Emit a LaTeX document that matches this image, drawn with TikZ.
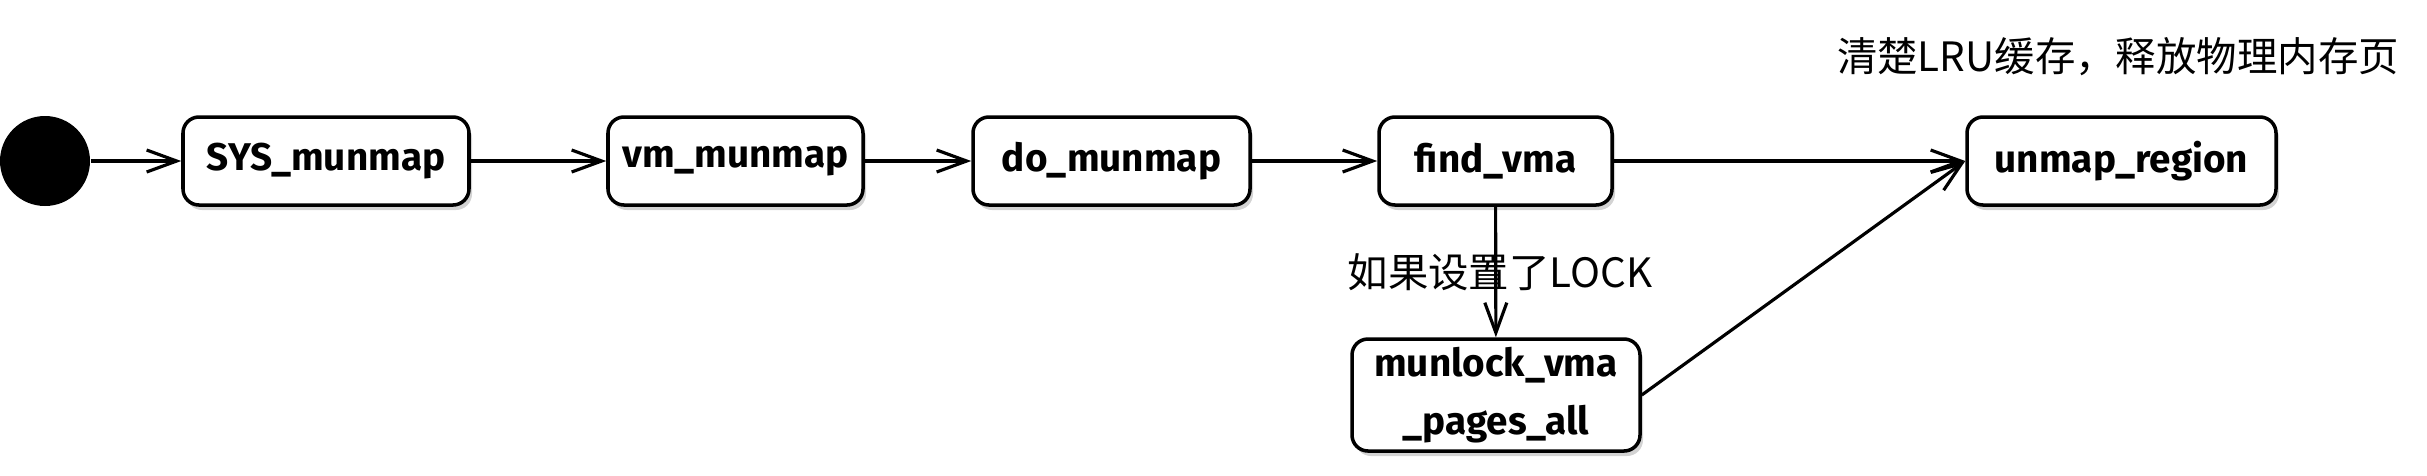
\documentclass[tikz,border=0pt]{standalone}
\usepackage{fontspec}
\setmainfont{Fira Sans}
\newfontfamily\cjk{Noto Sans CJK SC}
\usepackage{tikz}
\usetikzlibrary{positioning, arrows.meta, shadows}

\begin{document}
\begin{tikzpicture}[
  >={Straight Barb[length=3mm, width=2.2mm]},
  every node/.style={font=\fontsize{11}{16.5}\selectfont},
  callbox/.style={draw, line width=1pt, rounded corners=0.16cm, fill=white, minimum height=0.88cm, align=center, inner sep=2pt, font=\fontsize{11}{16.5}\selectfont\bfseries, drop shadow={opacity=0.35, shadow xshift=0.03cm, shadow yshift=-0.05cm}},
  flow/.style={->, line width=0.9pt}
]
\useasboundingbox (0,0) rectangle (24.27,4.75);

% Start
\node[circle, fill=black, minimum size=0.9cm, inner sep=0pt] (start) at (0.45, 3.14) {};

% Call chain
\node[callbox, minimum width=2.86cm] (sysmunmap) at (3.26, 3.14) {SYS\_munmap};
\node[callbox, minimum width=2.55cm] (vmmunmap) at (7.355, 3.14) {vm\_munmap};
\node[callbox, minimum width=2.77cm] (domunmap) at (11.115, 3.14) {do\_munmap};
\node[callbox, minimum width=2.33cm] (findvma) at (14.955, 3.14) {find\_vma};
\node[callbox, minimum width=3.09cm] (unmapregion) at (21.215, 3.14) {unmap\_region};
\node[callbox, minimum width=2.88cm, minimum height=1.12cm] (munlock) at (14.96, 0.80) {munlock\_vma\\\_pages\_all};

% Arrows
\draw[flow] (start) -- (sysmunmap);
\draw[flow] (sysmunmap) -- (vmmunmap);
\draw[flow] (vmmunmap) -- (domunmap);
\draw[flow] (domunmap) -- (findvma);
\draw[flow] (findvma) -- (unmapregion);
\draw[flow] (findvma) -- (munlock);
\draw[flow] (munlock.east) -- (unmapregion.west);

% Labels
\node[font=\fontsize{11.5}{13}\selectfont\cjk] (locklabel) at (15.0, 2.03) {如果设置了LOCK};
\node[font=\fontsize{11.5}{13}\selectfont\cjk] (lrulabel) at (21.18, 4.18) {清楚LRU缓存，释放物理内存页};

\end{tikzpicture}
\end{document}
